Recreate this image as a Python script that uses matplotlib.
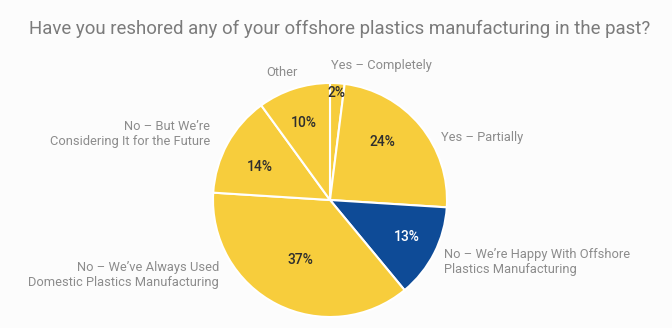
import matplotlib
matplotlib.use('Agg')
import matplotlib.pyplot as plt

labels = ['Yes – Completely', 'Yes – Partially',
          'No – We’re Happy With Offshore\nPlastics Manufacturing',
          'No – We’ve Always Used\nDomestic Plastics Manufacturing',
          'No – But We’re\nConsidering It for the Future',
          'Other']
values = [2, 24, 13, 37, 14, 10]
colors = ['#F7CD3C', '#F7CD3C', '#0E4B97', '#F7CD3C', '#F7CD3C', '#F7CD3C']

# text placement in pixel coords (y down), alignment
label_pos = [(331, 66, 'left'), (441, 138, 'left'), (444, 262, 'left'),
             (219, 275, 'right'), (210, 134, 'right'), (282, 72, 'center')]
pct_pos = [(336, 93), (382, 142), (407, 237), (300, 260), (260, 167), (304, 123)]

plt.rcParams['font.family'] = ['Roboto', 'DejaVu Sans']
W, H = 672, 328
fig = plt.figure(figsize=(W / 100, H / 100), dpi=100, facecolor='#fcfcfc')
ax = fig.add_axes([0, 0, 1, 1])

ax.pie(values, colors=colors, startangle=90, counterclock=False,
       center=(330, H - 200), radius=117,
       wedgeprops=dict(edgecolor='white', linewidth=1.5))
ax.set_xlim(0, W)
ax.set_ylim(0, H)
ax.set_aspect('equal')
ax.axis('off')

ax.text(340, H - 29, 'Have you reshored any of your offshore plastics manufacturing in the past?',
        ha='center', va='center', fontsize=13.4, color='#7b7b7b')

for lab, (x, y, ha) in zip(labels, label_pos):
    ax.text(x, H - y, lab, ha=ha, va='center', fontsize=9.3, color='#8c8c8c',
            linespacing=1.25, multialignment=ha)

for v, c, (x, y) in zip(values, colors, pct_pos):
    tc = 'white' if c == '#0E4B97' else '#2e2e2e'
    ax.text(x, H - y, f'{v}%', ha='center', va='center', fontsize=10,
            fontweight='medium', color=tc)

fig.savefig('out.png', dpi=100, facecolor=fig.get_facecolor())
